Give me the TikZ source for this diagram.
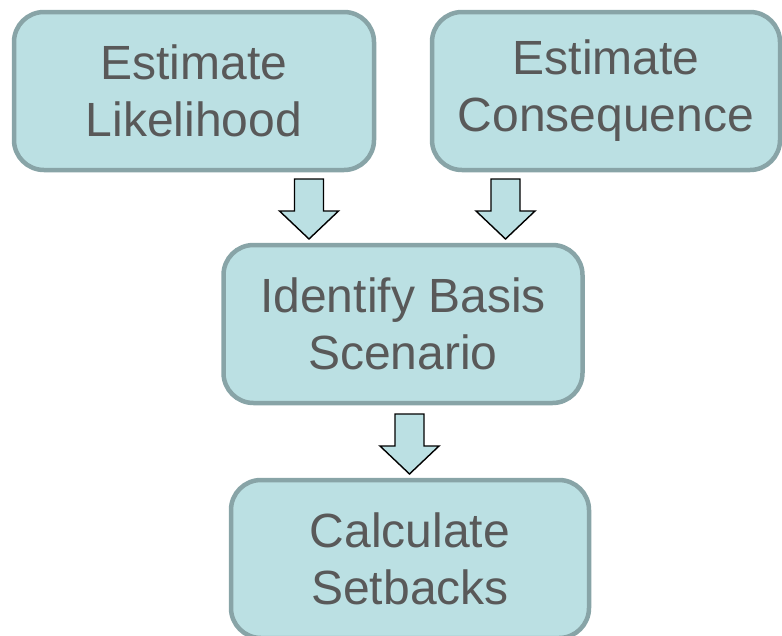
\documentclass[tikz,border=0pt]{standalone}
\usepackage{fontspec}
\setmainfont{Liberation Sans}
\usetikzlibrary{positioning}
\definecolor{boxfill}{HTML}{BBE0E3}
\definecolor{boxline}{HTML}{88A4A7}
\definecolor{boxtext}{HTML}{595959}
\tikzset{
x=1pt, y=-1pt, % pixel-like coordinates, y pointing down
stepbox/.style={draw=boxline, fill=boxfill, line width=4.5pt, rounded corners=30pt,
  text=boxtext, align=center, inner sep=0pt, minimum height=158pt,
  font=\fontsize{48}{57}\selectfont}, % the rounded process boxes
blockarrow/.style={draw=black, fill=boxfill, line width=1.4pt, line join=miter}, % hollow down arrows
}
% block arrow hanging down from a coordinate
\newcommand\downblock[1]{%
  \draw[blockarrow] (#1) ++(-14.5,0) -- ++(29,0) -- ++(0,32) -- ++(15,0)
    -- ++(-29.5,28) -- ++(-29.5,-28) -- ++(15,0) -- cycle;}

\begin{document}
\begin{tikzpicture}
    \useasboundingbox (0,0) rectangle (782,635);

    \node[stepbox, minimum width=360pt] (likely) at (194,91) {Estimate\\Likelihood};
    \node[stepbox, minimum width=348pt] (conseq) at (606,91) {Estimate\\Consequence};
    \node[stepbox, minimum width=359pt] (basis) at (403,324) {Identify Basis\\Scenario};
    \node[stepbox, minimum width=358pt] (setback) at (410,559) {Calculate\\Setbacks};

    \coordinate (a1) at (309,179);
    \coordinate (a2) at (505.5,179);
    \coordinate (a3) at (409.5,414);

    \downblock{a1}
    \downblock{a2}
    \downblock{a3}
\end{tikzpicture}
\end{document}
